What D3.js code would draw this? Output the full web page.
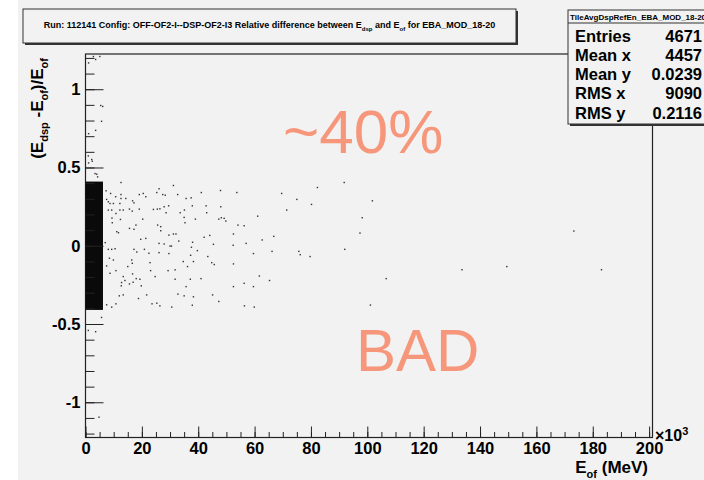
<!DOCTYPE html>
<html>
<head>
<meta charset="utf-8">
<script src="https://cdn.jsdelivr.net/npm/d3@7"></script>
<style>
body { margin: 0; background: #fff; }
svg { display: block; font-family: "Liberation Sans", Arial, Helvetica, sans-serif; }
</style>
</head>
<body>
<svg id="chart" width="704" height="480"></svg>
<script>
// energies in 10^3 MeV, relative difference (Edsp-Eof)/Eof
var scatterPts = [
	[12.6,0.404],[31.2,0.385],[26.1,0.364],[47.9,0.353],[53.7,0.340],[41.1,0.340],[82.3,0.372],[91.8,0.404],
	[69.6,0.334],[7.3,0.351],[8.9,0.334],[10.7,0.313],[12.6,0.327],[12.6,0.302],[14.3,0.302],[19.1,0.327],
	[20.5,0.334],[21.4,0.313],[25.3,0.340],[27.4,0.327],[28.3,0.323],[32.7,0.327],[35.7,0.302],[37.5,0.306],
	[16.7,0.287],[17.2,0.274],[7.5,0.296],[8.1,0.281],[8.7,0.270],[12.2,0.270],[9.9,0.270],[75.0,0.296],
	[80.2,0.264],[37.9,0.255],[42.8,0.255],[48.0,0.249],[29.5,0.255],[27.9,0.249],[26.4,0.236],[25.5,0.234],
	[24.1,0.232],[19.1,0.234],[15.6,0.234],[16.6,0.221],[13.4,0.228],[12.2,0.228],[9.3,0.228],[8.1,0.228],
	[35.1,0.228],[33.6,0.211],[28.6,0.211],[43.0,0.211],[71.4,0.228],[10.8,0.206],[12.4,0.168],[9.4,0.177],
	[9.5,0.147],[17.9,0.132],[20.3,0.170],[15.6,0.111],[17.2,0.105],[25.6,0.132],[26.7,0.122],[26.7,0.096],
	[35.0,0.181],[35.3,0.147],[39.0,0.170],[47.3,0.170],[48.2,0.179],[49.2,0.175],[49.8,0.158],[54.1,0.132],
	[56.3,0.128],[61.1,0.189],[11.1,0.090],[11.7,0.083],[29.6,0.068],[31.2,0.075],[32.1,0.075],[42.1,0.054],
	[44.1,0.066],[52.5,0.075],[66.8,0.060],[62.7,0.037],[57.0,0.015],[52.4,0.003],[45.4,0.009],[38.0,0.022],
	[33.1,0.030],[26.1,0.015],[27.9,0.011],[30.0,-0.002],[30.5,-0.002],[19.6,0.041],[21.4,0.047],[7.0,0.020],
	[8.1,-0.023],[9.3,-0.023],[10.5,-0.019],[17.2,-0.023],[20.9,-0.023],[18.2,-0.040],[22.5,-0.048],[26.1,-0.044],
	[29.6,-0.050],[37.6,-0.010],[39.7,-0.031],[37.3,-0.061],[43.4,-0.069],[59.6,-0.050],[66.2,-0.036],[75.7,-0.036],
	[76.2,-0.057],[79.7,-0.069],[92.0,-0.023],[8.5,-0.080],[9.9,-0.091],[7.5,-0.129],[10.8,-0.159],[8.7,-0.176],
	[16.4,-0.091],[16.6,-0.112],[15.0,-0.133],[22.9,-0.108],[23.1,-0.159],[29.3,-0.159],[31.8,-0.154],[34.7,-0.101],
	[36.2,-0.133],[38.3,-0.101],[44.8,-0.108],[45.7,-0.120],[52.5,-0.116],[13.4,-0.197],[14.0,-0.222],[12.8,-0.235],
	[12.7,-0.256],[15.6,-0.244],[16.9,-0.233],[18.0,-0.210],[19.3,-0.214],[19.8,-0.256],[16.7,-0.180],[24.7,-0.197],
	[31.8,-0.214],[37.2,-0.214],[41.0,-0.210],[52.5,-0.261],[56.3,-0.240],[59.6,-0.261],[61.7,-0.193],[65.3,-0.222],
	[35.7,-0.261],[12.0,-0.320],[13.4,-0.314],[18.8,-0.337],[21.7,-0.314],[32.8,-0.309],[35.0,-0.320],[38.3,-0.326],
	[45.1,-0.314],[47.3,-0.356],[23.6,-0.371],[25.3,-0.367],[26.4,-0.384],[30.6,-0.392],[37.9,-0.380],[56.4,-0.384],
	[59.9,-0.392],[7.5,-0.377],[9.3,-0.392],[10.8,-0.371],[5.7,-0.458],[4.0,0.457],[4.3,0.440],[2.4,0.540],
	[101.8,0.287],[98.2,0.179],[97.4,0.081],[106.7,-0.210],[101.1,-0.379],[133.6,-0.153],[149.5,-0.133],[173.3,0.094],
	[183.1,-0.153],[2.8,1.209],[3.6,1.190],[5.1,1.209],[1.1,1.168],[5.4,0.896],[6.1,0.890],[5.7,0.795],
	[3.6,0.737],[1.1,0.716],[1.0,0.574],[2.2,0.551],[1.1,0.529],[3.4,0.461],[1.0,-0.541],[3.6,-0.549],[4.8,-1.095]
];
// the saturated low-energy band (thousands of entries)
var coreBand = {e0: 0, e1: 6.2, r0: -0.41, r1: 0.41};

var xMajor = d3.range(0, 201, 20);
var xMinor = d3.range(0, 201, 5);
var yMajor = [-1, -0.5, 0, 0.5, 1];
var yMinor = d3.range(-12, 13).map(function (d) { return d / 10; });

var statLabels = ["Entries", "Mean x", "Mean y", "RMS x", "RMS y"];
var statValues = ["4671", "4457", "0.0239", "9090", "0.2116"];

var svg = d3.select("#chart");
var salmon = "#f6977b";

var x = d3.scaleLinear().domain([0, 201.2]).range([85.5, 652.5]);
var y = d3.scaleLinear().domain([-1.225, 1.225]).range([437.5, 54]);

// canvas background
svg.append("rect").attr("x", 18).attr("y", 0).attr("width", 686).attr("height", 480).attr("fill", "#f2f2f2");

// frame
svg.append("rect")
	.attr("x", x(0)).attr("y", y(1.225))
	.attr("width", x(201.2) - x(0)).attr("height", y(-1.225) - y(1.225))
	.attr("fill", "none").attr("stroke", "#222").attr("stroke-width", 1.2);

// points
svg.append("rect")
	.attr("x", x(coreBand.e0)).attr("y", y(coreBand.r1))
	.attr("width", x(coreBand.e1) - x(coreBand.e0))
	.attr("height", y(coreBand.r0) - y(coreBand.r1))
	.attr("fill", "#0a0a0a");

svg.append("g").selectAll("rect")
	.data(scatterPts)
	.enter().append("rect")
	.attr("x", function (d) { return x(d[0]) - 0.7; })
	.attr("y", function (d) { return y(d[1]) - 0.7; })
	.attr("width", 1.4).attr("height", 1.4)
	.attr("fill", "#333");

// axes
var tickFont = function (g) {
	g.selectAll("text").attr("font-family", "Liberation Sans, Arial, sans-serif")
		.attr("font-weight", "bold").attr("font-size", 16.5).attr("fill", "#000");
	g.selectAll("line").attr("stroke", "#222");
	g.select(".domain").remove();
};

svg.append("g").attr("transform", "translate(85.5,0)")
	.call(d3.axisLeft(y).tickValues(yMinor).tickSize(-9).tickFormat(""))
	.call(tickFont);
svg.append("g").attr("transform", "translate(85.5,0)")
	.call(d3.axisLeft(y).tickValues(yMajor).tickSize(-18).tickPadding(5).tickFormat(function (d) { return d; }))
	.call(tickFont);

svg.append("g").attr("transform", "translate(0,437.5)")
	.call(d3.axisBottom(x).tickValues(xMinor).tickSize(-5.5).tickFormat(""))
	.call(tickFont);
svg.append("g").attr("transform", "translate(0,437.5)")
	.call(d3.axisBottom(x).tickValues(xMajor).tickSize(-11).tickPadding(5).tickFormat(function (d) { return d; }))
	.call(tickFont);

svg.append("text").attr("x", 655).attr("y", 441)
	.attr("font-size", 16).attr("font-weight", "bold")
	.text("\u00d710").append("tspan").attr("dy", -6).attr("font-size", 11).text("3");

// axis titles
var xt = svg.append("text").attr("x", 648).attr("y", 473).attr("text-anchor", "end")
	.attr("font-size", 17).attr("font-weight", "bold");
xt.append("tspan").text("E");
xt.append("tspan").attr("dy", 5).attr("font-size", 11).text("of");
xt.append("tspan").attr("dy", -5).text("  (MeV)");

var yt = svg.append("text").attr("transform", "translate(43,58) rotate(-90)")
	.attr("text-anchor", "end").attr("font-size", 17).attr("font-weight", "bold");
yt.append("tspan").text("(E");
yt.append("tspan").attr("dy", 5).attr("font-size", 11).text("dsp");
yt.append("tspan").attr("dy", -5).text(" -E");
yt.append("tspan").attr("dy", 5).attr("font-size", 11).text("of");
yt.append("tspan").attr("dy", -5).text(")/E");
yt.append("tspan").attr("dy", 5).attr("font-size", 11).text("of");

// big annotations
svg.append("text").attr("x", 283).attr("y", 153).attr("font-size", 62).attr("fill", salmon).text("~40%");
svg.append("text").attr("x", 356).attr("y", 371).attr("font-size", 60).attr("fill", salmon).text("BAD");

// title box
svg.append("rect").attr("x", 25).attr("y", 11).attr("width", 493).attr("height", 34).attr("fill", "#333");
svg.append("rect").attr("x", 23).attr("y", 9).attr("width", 493).attr("height", 34)
	.attr("fill", "#f2f2f2").attr("stroke", "#333").attr("stroke-width", 1);
var tt = svg.append("text").attr("x", 269.5).attr("y", 28).attr("text-anchor", "middle")
	.attr("font-size", 9).attr("font-weight", "bold");
tt.append("tspan").text("Run: 112141 Config: OFF-OF2-I--DSP-OF2-I3 Relative difference between E");
tt.append("tspan").attr("dy", 3).attr("font-size", 6).text("dsp");
tt.append("tspan").attr("dy", -3).text(" and E");
tt.append("tspan").attr("dy", 3).attr("font-size", 6).text("of");
tt.append("tspan").attr("dy", -3).text(" for EBA_MOD_18-20");

// stats box
svg.append("rect").attr("x", 570).attr("y", 12).attr("width", 140).attr("height", 114).attr("fill", "#333");
svg.append("rect").attr("x", 568).attr("y", 10).attr("width", 140).attr("height", 114)
	.attr("fill", "#f2f2f2").attr("stroke", "#333").attr("stroke-width", 1);
svg.append("line").attr("x1", 568).attr("x2", 704).attr("y1", 23).attr("y2", 23).attr("stroke", "#333");
svg.append("text").attr("x", 570).attr("y", 19.5).attr("font-size", 8).attr("font-weight", "bold")
	.text("TileAvgDspRefEn_EBA_MOD_18-20");

var rows = svg.append("g").selectAll("g").data(statLabels).enter().append("g");
rows.append("text").attr("x", 575)
	.attr("y", function (d, i) { return 41.5 + i * 19.3; })
	.attr("font-size", 16.5).attr("font-weight", "bold").text(function (d) { return d; });
rows.append("text").attr("x", 702).attr("text-anchor", "end")
	.attr("y", function (d, i) { return 41.5 + i * 19.3; })
	.attr("font-size", 16.5).attr("font-weight", "bold").text(function (d, i) { return statValues[i]; });
</script>
</body>
</html>
